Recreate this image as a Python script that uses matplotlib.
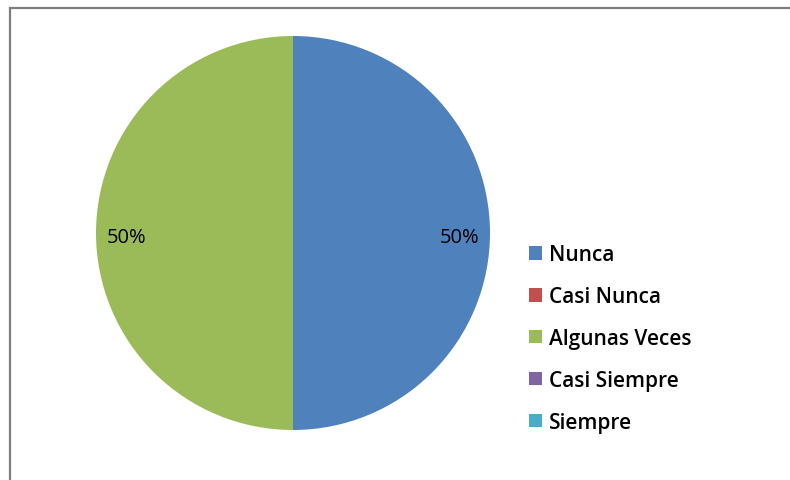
import matplotlib
matplotlib.use("Agg")
import matplotlib.pyplot as plt
from matplotlib.patches import Rectangle

categories = ["Nunca", "Casi Nunca", "Algunas Veces", "Casi Siempre", "Siempre"]
values = [1, 0, 1, 0, 0]
colors = ["#4F81BD", "#C0504D", "#9BBB59", "#8064A2", "#4BACC6"]

W, H = 790, 481
fig = plt.figure(figsize=(W / 100, H / 100), dpi=100)
fig.patch.set_facecolor("white")

# outer chart frame (runs past the right and bottom edges)
fig.patches.append(Rectangle((10 / W, -0.05), 1.0, 1 - 9 / H + 0.05,
                             transform=fig.transFigure, fill=False,
                             edgecolor="#7f7f7f", linewidth=1.6))

cx, cy, r = 293, 234, 197
ax = fig.add_axes([(cx - r) / W, (H - cy - r) / H, 2 * r / W, 2 * r / H])
ax.set_aspect("equal")


def pct(p):
    return f"{p:.0f}%" if p > 0 else ""


wedges, texts, autotexts = ax.pie(
    values, colors=colors, startangle=90, counterclock=False,
    autopct=pct, pctdistance=0.845, radius=1.0,
    wedgeprops=dict(linewidth=0),
    textprops=dict(fontsize=14.5, family="Open Sans", color="black"))
for t in autotexts:
    x, y = t.get_position()
    t.set_position((x, y - 0.02))
ax.set_xlim(-1, 1)
ax.set_ylim(-1, 1)

fig.legend(wedges, categories, loc="center left",
           bbox_to_anchor=(529 / W, 1 - 339.5 / H),
           frameon=False, handlelength=0.62, handleheight=0.62,
           handletextpad=0.35, labelspacing=1.0, borderpad=0, borderaxespad=0,
           prop=dict(family="Open Sans", weight="semibold", size=15))

fig.savefig("out.png", dpi=100, facecolor="white")
